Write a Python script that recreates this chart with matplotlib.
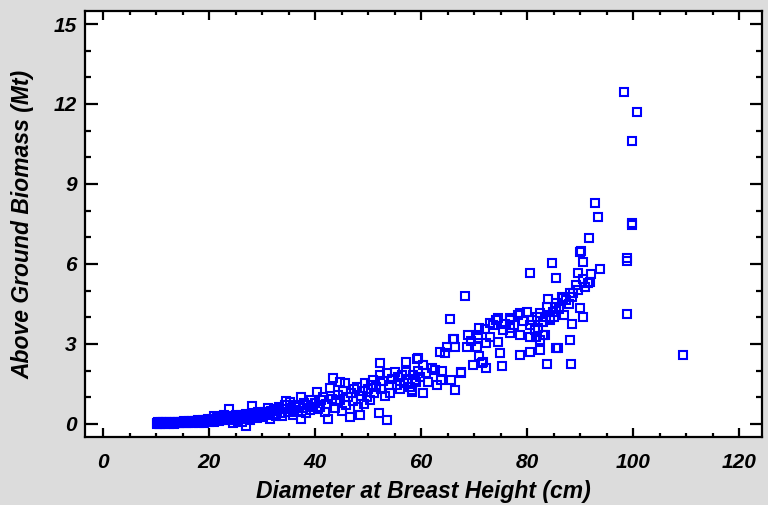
import matplotlib
matplotlib.use("Agg")
import matplotlib.pyplot as plt
from matplotlib.font_manager import FontProperties
from matplotlib.ticker import MultipleLocator

# Diameter at breast height (cm)
dbh = [
    # 10-20 cm
    10.1, 10.3, 10.5, 10.7, 10.9, 11.1, 11.3, 11.5, 11.8, 12.0, 12.3, 12.6,
    12.9, 13.2, 13.5, 13.8, 14.1, 14.4, 14.7, 15.0, 15.3, 15.6, 15.9, 16.2,
    16.5, 16.8, 17.1, 17.4, 17.7, 18.0, 18.3, 18.6, 18.9, 19.2, 19.5, 19.8,
    10.2, 10.8, 11.6, 12.4, 13.3, 14.2, 15.1, 16.0, 17.0, 18.1, 19.1, 20.0,
    # 20-30 cm
    20.3, 20.6, 20.9, 21.2, 21.5, 21.8, 22.1, 22.4, 22.7, 23.0, 23.3, 23.6,
    23.9, 24.2, 24.5, 24.8, 25.1, 25.4, 25.7, 26.0, 26.3, 26.6, 26.9, 27.2,
    27.5, 27.8, 28.1, 28.4, 28.7, 29.0, 29.3, 29.6, 29.9, 23.7, 28.1, 27.0,
    24.5, 26.2, 21.0, 22.9,
    # 30-45 cm
    30.2, 30.5, 30.8, 31.1, 31.4, 31.7, 32.0, 32.3, 32.6, 32.9, 33.2, 33.5,
    33.8, 34.1, 34.4, 34.6, 34.9, 35.2, 35.5, 35.8, 36.1, 36.4, 36.7, 37.0,
    37.4, 37.4, 37.7, 38.0, 38.3, 38.6, 39.0, 39.3, 39.6, 40.0, 40.3, 40.6,
    40.9, 41.2, 41.5, 41.8, 42.1, 42.5, 42.8, 43.1, 43.4, 43.7, 44.0, 44.4,
    44.7, 44.7,
    # 45-60 cm
    45.0, 45.3, 45.7, 45.9, 46.2, 46.5, 46.8, 47.1, 47.4, 47.9, 48.1, 48.4,
    48.7, 49.0, 49.2, 49.4, 49.7, 50.0, 50.3, 50.6, 50.9, 51.2, 51.5, 52.0,
    52.2, 52.2, 52.5, 52.8, 53.1, 53.5, 53.6, 53.9, 54.1, 54.5, 55.0, 55.4,
    55.7, 56.0, 56.3, 56.7, 57.1, 57.2, 57.5, 57.9, 58.2, 58.5, 58.8, 59.0,
    59.2, 59.5, 59.8,
    # 60-80 cm
    59.4, 60.4, 62.6, 61.3, 63.8, 65.7, 67.6, 66.4, 60.4, 58.2, 65.5, 68.9,
    70.8, 73.0, 74.5, 76.7, 78.3, 79.9, 64.8, 66.0, 64.5, 68.6, 70.5, 72.3,
    74.5, 76.7, 78.6, 71.4, 72.3, 74.8, 75.2, 78.6, 68.2, 67.6, 71.7, 73.6,
    73.0, 70.8, 66.2, 66.3, 75.5, 76.7, 74.2, 76.7, 78.6, 77.5, 79.2, 75.8,
    72.0, 71.0, 69.5, 63.5, 62.0, 61.0, 63.0, 64.0, 69.8, 70.9,
    # 80-95 cm
    80.5, 82.5, 83.8, 85.5, 81.6, 83.0, 84.3, 85.5, 80.5, 81.5, 83.0, 84.3,
    80.5, 82.4, 83.3, 82.4, 83.7, 85.5, 87.4, 88.7, 89.6, 80.5, 84.6, 85.5,
    89.9, 90.6, 89.6, 93.7, 92.1, 91.8, 89.3, 90.9, 88.1, 86.8, 84.0, 89.9,
    90.6, 88.4, 88.1, 85.9, 88.2, 81.0, 81.8, 82.0, 84.8, 86.0, 86.5, 87.0,
    87.8, 88.5, 91.5, 90.6, 92.8, 93.4, 91.7, 90.1, 83.5, 85.0,
    # > 95 cm
    98.2, 100.8, 99.7, 99.7, 99.8, 98.8, 98.8, 98.8, 109.4,
]

# Above ground biomass (Mt), same order as dbh
agb = [
    0.03, 0.06, 0.01, 0.05, 0.08, 0.02, 0.06, 0.04, 0.07, 0.02, 0.05, 0.08,
    0.03, 0.06, 0.09, 0.04, 0.07, 0.05, 0.09, 0.06, 0.10, 0.05, 0.08, 0.11,
    0.07, 0.10, 0.06, 0.12, 0.09, 0.13, 0.08, 0.11, 0.15, 0.10, 0.13, 0.17,
    0.00, 0.00, 0.01, 0.00, 0.01, 0.02, 0.02, 0.03, 0.03, 0.04, 0.05, 0.06,
    0.12, 0.20, 0.08, 0.16, 0.22, 0.10, 0.18, 0.25, 0.13, 0.20, 0.28, 0.15,
    0.22, 0.30, 0.17, 0.25, 0.33, 0.12, 0.27, 0.35, 0.20, 0.30, 0.38, 0.24,
    0.33, 0.16, 0.40, 0.28, 0.36, 0.22, 0.44, 0.31, 0.40, 0.56, 0.67, -0.07,
    0.05, 0.08, 0.28, 0.35,
    0.25, 0.45, 0.35, 0.60, 0.20, 0.50, 0.38, 0.55, 0.28, 0.48, 0.62, 0.40,
    0.30, 0.55, 0.70, 0.86, 0.45, 0.84, 0.60, 0.35, 0.52, 0.72, 0.45, 0.65,
    1.02, 0.18, 0.58, 0.80, 0.42, 0.70, 0.52, 0.90, 0.65, 0.78, 1.21, 0.55,
    0.65, 0.88, 1.02, 0.45, 0.75, 0.18, 1.34, 0.95, 1.71, 0.60, 0.85, 1.10,
    1.59, 0.90,
    0.50, 1.25, 1.53, 0.71, 1.00, 0.25, 1.15, 0.85, 1.30, 1.40, 0.65, 0.34,
    1.05, 1.25, 0.75, 1.53, 1.02, 1.30, 0.90, 1.45, 1.65, 1.15, 1.40, 0.40,
    2.27, 1.84, 1.30, 1.60, 1.05, 1.90, 0.15, 1.45, 1.15, 1.70, 1.96, 1.46,
    1.75, 1.30, 1.85, 1.55, 2.34, 1.96, 1.70, 1.40, 1.21, 1.85, 1.65, 1.59,
    2.43, 2.00, 1.75,
    2.46, 2.21, 2.02, 1.59, 1.65, 1.65, 1.96, 1.27, 1.15, 1.27, 3.93, 3.34,
    3.34, 3.78, 3.96, 3.90, 4.09, 4.21, 2.90, 3.18, 2.65, 2.90, 2.90, 3.03,
    3.09, 3.40, 3.34, 2.28, 2.09, 2.65, 2.17, 2.59, 4.80, 1.92, 2.34, 3.71,
    3.27, 3.21, 3.18, 2.90, 3.52, 3.59, 3.90, 3.96, 4.15, 3.70, 3.85, 3.75,
    3.55, 3.60, 3.10, 2.70, 2.10, 1.90, 1.45, 2.00, 2.20, 2.55,
    2.71, 2.77, 2.25, 2.84, 3.27, 3.34, 3.90, 4.40, 3.71, 3.52, 3.84, 3.96,
    3.27, 3.15, 3.34, 4.15, 4.40, 4.52, 4.65, 4.90, 5.02, 5.67, 6.03, 5.49,
    6.46, 6.09, 5.67, 5.81, 5.62, 5.34, 5.21, 5.15, 4.90, 4.71, 4.68, 4.34,
    4.00, 3.75, 3.15, 2.84, 2.24, 3.90, 4.00, 3.60, 4.20, 4.30, 4.75, 4.10,
    4.50, 4.75, 5.30, 5.43, 8.30, 7.77, 6.96, 6.49, 4.00, 4.00,
    12.45, 11.70, 10.60, 7.54, 7.48, 6.21, 6.10, 4.12, 2.59,
]

xticks = [0, 20, 40, 60, 80, 100, 120]
yticks = [0, 3, 6, 9, 12, 15]

tick_font = FontProperties(family="Liberation Sans", weight="bold", style="italic", size=15)
label_font = {"family": "Liberation Sans", "weight": "bold", "style": "italic", "size": 16.5}

fig = plt.figure(figsize=(7.68, 5.05), dpi=100, facecolor="#dcdcdc")
ax = fig.add_axes([0.1107, 0.1347, 0.8815, 0.8436])
ax.set_facecolor("white")

ax.plot(dbh, agb, linestyle="none", marker="s", markersize=5.3,
        markerfacecolor="none", markeredgecolor="#0000ff", markeredgewidth=1.5)

ax.set_xlim(-3.4, 124.3)
ax.set_ylim(-0.49, 15.49)
ax.set_xticks(xticks)
ax.set_yticks(yticks)
ax.xaxis.set_minor_locator(MultipleLocator(5))
ax.yaxis.set_minor_locator(MultipleLocator(1))

for s in ax.spines.values():
    s.set_linewidth(1.6)

ax.tick_params(axis="both", which="both", direction="in", top=True, right=True, width=1.6)
ax.tick_params(axis="x", which="major", length=6.5, pad=11.5)
ax.tick_params(axis="x", which="minor", length=3)
ax.tick_params(axis="y", which="major", length=9, pad=6)
ax.tick_params(axis="y", which="minor", length=4)

for lab in ax.get_xticklabels() + ax.get_yticklabels():
    lab.set_fontproperties(tick_font)

ax.set_xlabel("Diameter at Breast Height (cm)", fontdict=label_font, labelpad=5.5)
ax.set_ylabel("Above Ground Biomass (Mt)", fontdict=label_font, labelpad=14)

fig.savefig("out.png", dpi=100, facecolor=fig.get_facecolor())
